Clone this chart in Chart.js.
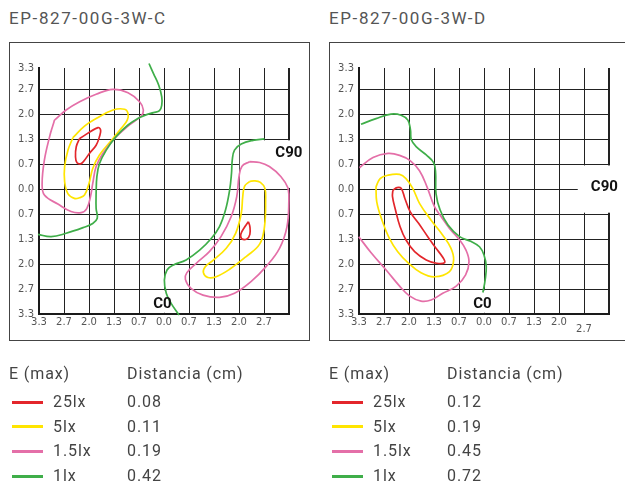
<!DOCTYPE html>
<html>
<head>
<meta charset="utf-8">
<script src="https://cdn.jsdelivr.net/npm/chart.js@4.4.1/dist/chart.umd.min.js"></script>
<style>
  html, body { margin: 0; padding: 0; background: #fff; }
  body { width: 625px; height: 486px; position: relative; overflow: hidden; font-family: Roboto, "Open Sans", sans-serif; color: #444; }
  .title { position: absolute; top: 8px; font-size: 17px; letter-spacing: 1.6px; color: #555; }
  .frame { position: absolute; top: 42px; width: 299px; height: 297px; border: 1px solid #444; }
  .frame.right { width: 310px; }
  .frame canvas { display: block; }
  .legend { position: absolute; top: 0; width: 300px; height: 486px; font-size: 16px; letter-spacing: 0.9px; color: #444; }
  .legend div { position: absolute; white-space: nowrap; line-height: 20px; }
  .legend .sw { height: 3px; width: 31px; }
</style>
</head>
<body>
<div class="title" style="left:9px">EP-827-00G-3W-C</div>
<div class="title" style="left:329px">EP-827-00G-3W-D</div>
<div class="frame" style="left:9px"><canvas id="chartC" width="299" height="297"></canvas></div>
<div class="frame right" style="left:329px"><canvas id="chartD" width="299" height="297"></canvas></div>
<div class="legend" id="legC" style="left:9px"></div>
<div class="legend" id="legD" style="left:329px"></div>
<script>
// isolux levels + distances per model
const levels = ["25lx", "5lx", "1.5lx", "1lx"];
const levelColors = ["#e3262b", "#ffe500", "#e46fa8", "#3fae49"];
const distC = ["0.08", "0.11", "0.19", "0.42"];
const distD = ["0.12", "0.19", "0.45", "0.72"];

// tick labels (grid step is 2/3 cm, labels are absolute distances)
const xTickLabelsC = ["3.3", "2.7", "2.0", "1.3", "0.7", "0.0", "0.7", "1.3", "2.0", "2.7", ""];
const xTickLabelsD = ["3.3", "2.7", "2.0", "1.3", "0.7", "0.0", "0.7", "1.3", "2.0", ["", "2.7"], ""];
const yTickLabels = ["3.3", "2.7", "2.0", "1.3", "0.7", "0.0", "0.7", "1.3", "2.0", "2.7", "3.3"];

// contours, [x, y] in cm -- model C
const cRedA = [[-2.25,1.35],[-1.76,1.64],[-1.69,1.57],[-1.72,1.40],[-1.81,1.17],[-1.99,0.95],[-2.12,0.77],[-2.21,0.68],[-2.32,0.70],[-2.36,0.86],[-2.34,1.13],[-2.25,1.35]];
const cYellowA = [[-2.43,1.37],[-2.12,1.68],[-1.81,1.88],[-1.36,2.11],[-1.05,2.13],[-0.96,2.02],[-0.98,1.84],[-1.14,1.62],[-1.36,1.35],[-1.72,0.91],[-1.90,0.55],[-2.00,0.15],[-2.12,-0.16],[-2.25,-0.23],[-2.39,-0.25],[-2.56,-0.13],[-2.65,0.20],[-2.65,0.60],[-2.56,1.04],[-2.43,1.37]];
const cPinkA = [[-2.92,1.84],[-2.61,2.11],[-2.25,2.33],[-1.81,2.53],[-1.36,2.66],[-0.96,2.57],[-0.65,2.33],[-0.55,2.11],[-0.61,1.95],[-0.96,1.68],[-1.32,1.35],[-1.63,0.95],[-1.81,0.60],[-1.90,0.15],[-1.96,-0.20],[-2.06,-0.52],[-2.21,-0.63],[-2.48,-0.60],[-2.83,-0.40],[-3.19,-0.16],[-3.25,0.15],[-3.19,0.77],[-3.05,1.40],[-2.96,1.71],[-2.92,1.84]];
const cGreenA = [[-0.40,3.35],[-0.28,3.08],[-0.14,2.77],[-0.06,2.46],[-0.06,2.24],[-0.12,2.09],[-0.28,2.04],[-0.48,1.98],[-0.70,1.88],[-0.96,1.71],[-1.28,1.40],[-1.54,1.04],[-1.72,0.68],[-1.79,0.33],[-1.81,-0.12],[-1.81,-0.52],[-1.78,-0.78],[-1.90,-0.92],[-2.16,-1.03],[-2.61,-1.18],[-3.01,-1.27],[-3.36,-1.21]];
const cRedB = [[2.25,-0.87],[2.16,-1.00],[2.05,-1.20],[2.07,-1.32],[2.21,-1.33],[2.29,-1.21],[2.29,-1.00],[2.25,-0.87]];
const cYellowB = [[2.28,0.20],[2.15,0.08],[2.10,-0.20],[2.06,-0.65],[1.91,-1.18],[1.66,-1.58],[1.30,-1.91],[1.10,-2.07],[1.05,-2.23],[1.17,-2.36],[1.39,-2.34],[1.75,-2.14],[2.19,-1.80],[2.55,-1.47],[2.68,-1.00],[2.71,-0.29],[2.69,0.02],[2.57,0.18],[2.41,0.22],[2.28,0.20]];
const cPinkB = [[2.28,0.73],[2.08,0.61],[2.00,0.33],[1.94,-0.20],[1.79,-0.74],[1.52,-1.27],[1.21,-1.67],[0.86,-1.98],[0.61,-2.23],[0.57,-2.41],[0.72,-2.65],[1.04,-2.83],[1.48,-2.89],[1.88,-2.78],[2.32,-2.47],[2.72,-2.07],[3.08,-1.58],[3.28,-1.00],[3.33,-0.29],[3.31,0.02],[3.12,0.33],[2.81,0.60],[2.55,0.71],[2.28,0.73]];
const cGreenB = [[2.68,1.34],[2.37,1.30],[2.06,1.20],[1.88,1.04],[1.82,0.77],[1.80,0.42],[1.75,-0.03],[1.64,-0.56],[1.48,-1.00],[1.26,-1.32],[0.95,-1.63],[0.59,-1.89],[0.24,-2.03],[0.08,-2.16],[0.01,-2.43],[0.06,-2.78],[0.19,-3.05],[0.40,-3.36]];

// contours -- model D
const dRed = [[-2.43,-0.03],[-2.32,0.04],[-2.21,0.02],[-2.11,-0.25],[-1.97,-0.60],[-1.74,-0.92],[-1.50,-1.27],[-1.28,-1.58],[-1.10,-1.82],[-1.05,-1.96],[-1.26,-1.98],[-1.54,-1.89],[-1.85,-1.67],[-2.08,-1.36],[-2.24,-1.00],[-2.36,-0.56],[-2.44,-0.20],[-2.43,-0.03]];
const dYellow = [[-2.88,0.06],[-2.77,0.28],[-2.56,0.37],[-2.25,0.39],[-2.08,0.28],[-1.90,0.02],[-1.72,-0.38],[-1.41,-0.83],[-1.10,-1.23],[-0.88,-1.58],[-0.81,-1.89],[-0.92,-2.20],[-1.32,-2.34],[-1.68,-2.23],[-2.03,-1.96],[-2.30,-1.67],[-2.52,-1.32],[-2.72,-0.83],[-2.86,-0.34],[-2.88,0.06]];
const dPink = [[-3.34,-1.27],[-3.01,-1.70],[-2.61,-2.16],[-2.25,-2.59],[-1.99,-2.85],[-1.68,-2.99],[-1.41,-2.96],[-1.10,-2.78],[-0.74,-2.59],[-0.49,-2.29],[-0.40,-1.94],[-0.48,-1.63],[-0.65,-1.36],[-0.92,-1.05],[-1.14,-0.74],[-1.32,-0.47],[-1.52,0.06],[-1.72,0.49],[-1.97,0.76],[-2.25,0.90],[-2.56,0.95],[-2.96,0.84],[-3.32,0.57]];
const dGreen = [[-3.28,1.73],[-2.88,1.88],[-2.48,2.00],[-2.21,1.97],[-2.03,1.84],[-1.96,1.57],[-1.94,1.32],[-1.81,1.13],[-1.54,0.91],[-1.34,0.70],[-1.29,0.42],[-1.28,-0.12],[-1.17,-0.56],[-0.96,-0.96],[-0.65,-1.27],[-0.34,-1.40],[-0.12,-1.54],[0.00,-1.76],[0.06,-2.07],[0.03,-2.43],[-0.03,-2.76]];

const STEP = 2 / 3;
const X_MIN = -5 * STEP, X_MAX = 5 * STEP;
const Y_MIN = -5 * STEP, Y_MAX = 3.23;
const tickFont = { family: "DejaVu Sans", size: 10, lineHeight: "7px" };

function contour(pts, level) {
  return {
    data: pts.map(([x, y]) => ({ x, y })),
    borderColor: levelColors[level],
    borderWidth: 1.7,
    pointRadius: 0,
    tension: 0.4,
    fill: false,
    clip: false
  };
}

// white patches over the grid + C0 / C90 markers
const markers = {
  id: "markers",
  beforeDatasetsDraw(chart, args, opts) {
    const { x, y } = chart.scales;
    const c = chart.ctx;
    c.save();
    c.fillStyle = "#fff";
    (opts.blanks || []).forEach(([x0, x1, y0, y1]) => {
      const l = x.getPixelForValue(x0), r = x.getPixelForValue(x1);
      const t = y.getPixelForValue(y1), b = y.getPixelForValue(y0);
      c.fillRect(l, t, r - l, b - t);
    });
    c.restore();
  },
  afterDatasetsDraw(chart, args, opts) {
    const { x, y } = chart.scales;
    const c = chart.ctx;
    c.save();
    c.font = "bold 15px Roboto, sans-serif";
    c.fillStyle = "#111";
    c.textAlign = "center";
    c.textBaseline = "middle";
    (opts.labels || []).forEach(m => c.fillText(m.text, x.getPixelForValue(m.x), y.getPixelForValue(m.y)));
    c.restore();
  }
};

function makeChart(id, datasets, xLabels, marks) {
  return new Chart(document.getElementById(id), {
    type: "line",
    data: { datasets },
    options: {
      responsive: false,
      animation: false,
      parsing: false,
      layout: { padding: { top: 25, right: 20, left: 0, bottom: 0 } },
      plugins: { legend: { display: false }, tooltip: { enabled: false }, markers: marks },
      scales: {
        x: {
          type: "linear", min: X_MIN, max: X_MAX,
          afterBuildTicks: s => { s.ticks = xLabels.map((_, i) => ({ value: X_MIN + i * STEP })); },
          afterFit: s => { s.height = 26; },
          border: { color: "#1a1a1a", width: 2 },
          grid: { color: "#222", lineWidth: c => (c.index === 10 ? 2 : 1), drawTicks: false },
          ticks: { autoSkip: false, maxRotation: 0, minRotation: 0, padding: 5, color: "#555", font: tickFont,
                   callback: (v, i) => xLabels[i] }
        },
        y: {
          type: "linear", min: Y_MIN, max: Y_MAX,
          afterBuildTicks: s => { s.ticks = yTickLabels.map((_, i) => ({ value: i === 10 ? Y_MAX : Y_MIN + i * STEP })); },
          afterFit: s => { s.width = 29; },
          border: { color: "#1a1a1a", width: 2 },
          grid: { color: c => (c.index === 10 ? "rgba(0,0,0,0)" : "#222"), lineWidth: 1, drawTicks: false },
          ticks: { autoSkip: false, padding: 5, color: "#555", font: { family: "DejaVu Sans", size: 10 },
                   callback: (v, i) => yTickLabels[i] }
        }
      }
    },
    plugins: [markers]
  });
}

makeChart("chartC", [
  contour(cGreenA, 3), contour(cGreenB, 3),
  contour(cPinkA, 2), contour(cPinkB, 2),
  contour(cYellowA, 1), contour(cYellowB, 1),
  contour(cRedA, 0), contour(cRedB, 0)
], xTickLabelsC, {
  blanks: [[2.02, 3.45, 0.03, 1.30], [-0.08, 0.08, -3.30, -2.70]],
  labels: [{ text: "C90", x: 3.33, y: 0.96 }, { text: "C0", x: -0.04, y: -3.07 }]
});

makeChart("chartD", [
  contour(dGreen, 3), contour(dPink, 2), contour(dYellow, 1), contour(dRed, 0)
], xTickLabelsD, {
  blanks: [[2.50, 3.45, -0.63, 0.63], [-0.08, 0.08, -3.30, -2.70]],
  labels: [{ text: "C90", x: 3.21, y: 0.05 }, { text: "C0", x: -0.04, y: -3.07 }]
});

function buildLegend(el, dists) {
  const rows = [`<div style="left:0;top:364px">E (max)</div>`, `<div style="left:118px;top:364px">Distancia (cm)</div>`];
  levels.forEach((lv, i) => {
    const top = 392 + i * 24.7;
    rows.push(`<div class="sw" style="left:3px;top:${top + 8.5}px;background:${levelColors[i]}"></div>`);
    rows.push(`<div style="left:44px;top:${top}px">${lv}</div>`);
    rows.push(`<div style="left:118px;top:${top}px">${dists[i]}</div>`);
  });
  el.innerHTML = rows.join("");
}
buildLegend(document.getElementById("legC"), distC);
buildLegend(document.getElementById("legD"), distD);
</script>
</body>
</html>
